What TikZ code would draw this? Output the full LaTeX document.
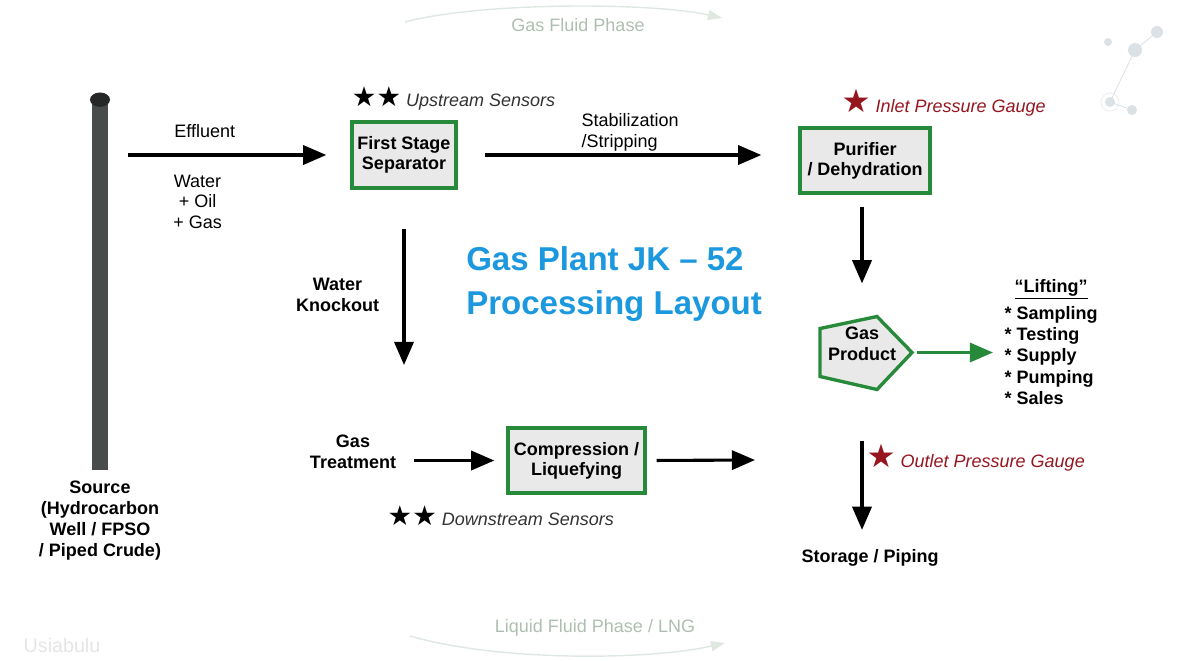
\documentclass[tikz,border=0pt]{standalone}
\usepackage{fontspec}
\setmainfont{Liberation Sans}
\newfontfamily\symfont{DejaVu Sans}
\usetikzlibrary{arrows.meta, positioning, calc, backgrounds, shapes.geometric}

\definecolor{boxgreen}{RGB}{38,138,58}
\definecolor{boxfill}{RGB}{233,233,233}
\definecolor{titleblue}{RGB}{28,152,222}
\definecolor{gaugered}{RGB}{150,22,32}
\definecolor{wellgray}{RGB}{72,76,74}
\definecolor{wellcapgray}{RGB}{38,40,40}
\definecolor{phasegray}{RGB}{175,190,177}
\definecolor{faintline}{RGB}{222,232,224}
\definecolor{molgray}{RGB}{220,225,230}

\tikzset{
    stage/.style={
        rectangle,
        draw=boxgreen,
        line width=2.4pt,
        fill=boxfill,
        align=center,
        inner sep=1pt,
        font=\fontsize{12.8}{14.2}\selectfont\bfseries
    },
    product/.style={
        draw=boxgreen,
        line width=2.4pt,
        fill=boxfill,
        line join=miter
    },
    flow/.style={
        draw=black,
        line width=2.2pt,
        -{Triangle[length=0.58cm, width=0.48cm]}
    },
    greenflow/.style={
        draw=boxgreen,
        line width=2.2pt,
        -{Triangle[length=0.58cm, width=0.48cm]}
    },
    txt/.style={
        align=center,
        inner sep=1pt,
        font=\fontsize{12.8}{14.6}\selectfont
    },
    boldtxt/.style={
        align=center,
        inner sep=1pt,
        font=\fontsize{12.8}{15}\selectfont\bfseries
    },
    sensor/.style={
        inner sep=1pt,
        text=black!80,
        font=\fontsize{12.8}{15}\selectfont\itshape
    },
    gauge/.style={
        sensor,
        text=gaugered
    },
    titletxt/.style={
        align=left,
        inner sep=0pt,
        text=titleblue,
        font=\fontsize{23.5}{27}\selectfont\bfseries
    },
    phase/.style={
        inner sep=1pt,
        text=phasegray,
        font=\fontsize{12.8}{15}\selectfont
    },
    phasearc/.style={
        draw=faintline,
        line width=1pt,
        -{Triangle[length=0.35cm, width=0.25cm]}
    }
}
\newcommand{\blackstars}{{\symfont\fontsize{19.5}{19}\selectfont\color{black}★★}}
\newcommand{\redstar}{{\symfont\fontsize{23}{21}\selectfont ★}}

\begin{document}
\begin{tikzpicture}[x=0.025cm, y=-0.025cm]
\useasboundingbox (0,0) rectangle (1182,660);

% Faint background decoration
\node[phase] (gasphase) at (578,25) {Gas Fluid Phase};
\draw[phasearc] (405,22) .. controls (480,2) and (650,2) .. (722,18);
\node[phase] (liqphase) at (595,628) {Liquid Fluid Phase / LNG};
\draw[phasearc] (410,636) .. controls (500,662) and (650,660) .. (725,643);
\node[font=\fontsize{14}{14}\selectfont, text=black!10] (mark) at (62,645) {Usiabulu};
\draw[molgray, line width=0.6pt] (1157,32) -- (1135,50) -- (1110,102) -- (1132,110);
\fill[molgray] (1135,50) circle (7) (1108,42) circle (4) (1157,32) circle (6)
               (1110,102) circle (5) (1132,110) circle (5);
\draw[molgray!70, line width=0.5pt] (1110,102) circle (9);

% Source well
\node[rectangle, fill=wellgray, minimum width=0.375cm, minimum height=9.25cm, inner sep=0pt] (well) at (100,285) {};
\node[ellipse, fill=wellcapgray, minimum width=0.5cm, minimum height=0.36cm, inner sep=0pt] (wellcap) at (well.north) {};
\node[boldtxt, below=0.22cm of well] (source) {Source\\(Hydrocarbon\\Well / FPSO\\/ Piped Crude)};

% Process units
\node[stage, minimum width=2.6cm, minimum height=1.65cm] (sep) at (404,155) {First Stage\\Separator};
\node[stage, minimum width=3.25cm, minimum height=1.625cm] (pur) at (865,160.5) {Purifier\\/ Dehydration};
\node[stage, minimum width=3.425cm, minimum height=1.625cm] (comp) at (576.5,460.5) {Compression /\\Liquefying};
\node[boldtxt] (gas) at (862,344) {Gas\\Product};
\node[boldtxt] (treat) at (353,452) {Gas\\Treatment};
\node[boldtxt] (storage) at (870,558) {Storage / Piping};

% Gas product outline
\begin{scope}[on background layer, shift={(866,352.5)}]
\draw[product] (-46,-24) -- (11,-36) -- (46,0) coordinate (gastip) -- (11,37) -- (-46,24) -- cycle;
\end{scope}

% Lifting list
\node[boldtxt, align=left, anchor=north west] (lifting) at (1003,305) {* Sampling\\* Testing\\* Supply\\* Pumping\\* Sales};
\node[boldtxt, above=0.1cm of lifting] (liftttl) {\underline{“Lifting”}};

% Title
\node[titletxt, anchor=west] (title) at (466,284) {Gas Plant JK – 52\\[4pt]Processing Layout};

% Sensors and gauges
\node[sensor, above right=0.22cm and 0cm of sep.north west] (upsens) {\blackstars\ Upstream Sensors};
\node[sensor, anchor=west] (downsens) at (386,516) {\blackstars\ Downstream Sensors};
\node[gauge, anchor=west] (ingauge) at (840,103) {\redstar\ Inlet Pressure Gauge};
\node[gauge, anchor=west] (outgauge) at (865,458) {\redstar\ Outlet Pressure Gauge};

% Free ends
\coordinate (kotip) at (404,365);
\coordinate (compout) at (755,460);

% Connections
\draw[flow, shorten <=0.5cm, shorten >=0.6cm] (well.east |- sep.west) -- (sep.west)
    node[txt, pos=0.4, above=0.35cm] {Effluent}
    node[txt, pos=0.37, below=0.42cm] {Water\\+ Oil\\+ Gas};
\draw[flow, shorten <=0.675cm, shorten >=0.925cm] (sep.east) -- (sep.east -| pur.west)
    node[txt, align=left, pos=0.355, above right=0.03cm and 0cm] {Stabilization\\/Stripping};
\draw[flow, shorten <=0.975cm] (sep.south) -- (kotip)
    node[boldtxt, pos=0.6, left=0.55cm] {Water\\Knockout};
\draw[flow, shorten <=0.4cm, shorten >=0.3cm] (treat.east |- comp.west) -- (comp.west);
\draw[flow, shorten <=0.25cm] (comp.east) -- (compout);
\draw[flow, shorten <=0.3cm, shorten >=1.05cm] (pur.south -| gas) -- (gas);
\draw[flow, shorten <=1.95cm, shorten >=0.45cm] (gas) -- (gas |- storage.north);
\draw[greenflow, shorten <=0.12cm, shorten >=0.25cm] (gastip) -- (lifting.west |- gastip);

\end{tikzpicture}
\end{document}
